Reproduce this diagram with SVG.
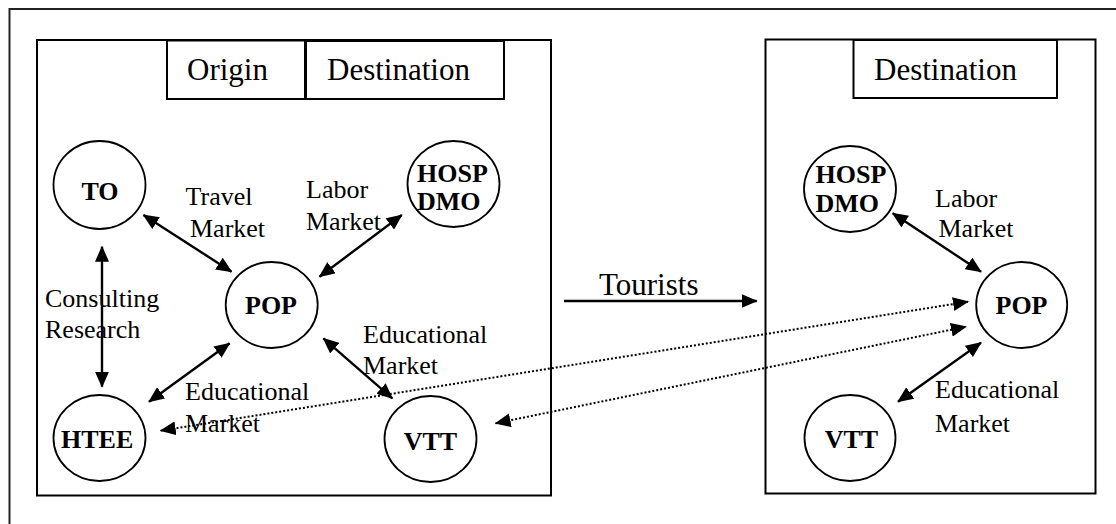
<svg xmlns="http://www.w3.org/2000/svg" width="1116" height="524" viewBox="0 0 1116 524">
<defs>
<marker id="ah" markerUnits="userSpaceOnUse" markerWidth="16" markerHeight="14" refX="15" refY="7" orient="auto-start-reverse">
<path d="M0,0 L16,7 L0,14 z" fill="#000"/>
</marker>
<style>
.frame{fill:none;stroke:#222;stroke-width:2}
.box{fill:none;stroke:#000;stroke-width:2}
.node{fill:#fff;stroke:#000;stroke-width:1.8}
.nl{font-family:"Liberation Serif","Times New Roman",serif;font-weight:bold;font-size:26px;fill:#000}
.lb{font-family:"Liberation Serif","Times New Roman",serif;font-size:26px;fill:#000}
.big{font-family:"Liberation Serif","Times New Roman",serif;font-size:31px;fill:#000}
.c{fill:none;stroke:#000;stroke-width:2.4;marker-start:url(#ah);marker-end:url(#ah)}
.d{fill:none;stroke:#000;stroke-width:2;stroke-dasharray:2 2;marker-start:url(#ah);marker-end:url(#ah)}
.t{fill:none;stroke:#000;stroke-width:2.6;marker-end:url(#ah)}
</style>
</defs>
<rect width="1116" height="524" fill="#fff"/>
<g id="frame">
<path class="frame" d="M9.5,524 V9 H1116"/>
</g>
<g id="origin-box">
<rect class="box" x="37" y="40" width="514" height="455.5"/>
<rect class="box" x="167" y="40.5" width="138" height="58.5"/>
<text class="big" x="187" y="80">Origin</text>
<rect class="box" x="306" y="41" width="198" height="58"/>
<text class="big" x="327" y="80">Destination</text>
</g>
<g id="dest-box">
<rect class="box" x="765.5" y="39.5" width="330" height="454"/>
<rect class="box" x="853.5" y="40" width="203.5" height="58"/>
<text class="big" x="874" y="80">Destination</text>
</g>
<g id="labels">
<text class="lb" x="185.5" y="205">Travel</text>
<text class="lb" x="190" y="237">Market</text>
<text class="lb" x="306" y="198">Labor</text>
<text class="lb" x="306" y="230">Market</text>
<text class="lb" x="45" y="306.5">Consulting</text>
<text class="lb" x="45" y="337.5">Research</text>
<text class="lb" x="363" y="342.5">Educational</text>
<text class="lb" x="363" y="373.5">Market</text>
<text class="lb" x="185" y="400">Educational</text>
<text class="lb" x="185" y="432">Market</text>
<text class="big" x="599" y="295">Tourists</text>
<text class="lb" x="935" y="207">Labor</text>
<text class="lb" x="938.5" y="237">Market</text>
<text class="lb" x="935" y="398">Educational</text>
<text class="lb" x="935" y="432">Market</text>
</g>
<g id="connectors">
<line class="c" x1="143.5" y1="215" x2="231.5" y2="271.7"/>
<line class="c" x1="401.8" y1="215" x2="319.5" y2="276.7"/>
<line class="c" x1="102" y1="246.7" x2="102" y2="386.7"/>
<line class="c" x1="229.6" y1="343.3" x2="149" y2="401.7"/>
<line class="c" x1="323.4" y1="338.3" x2="392.3" y2="398.3"/>
<line class="t" x1="564" y1="301" x2="756.7" y2="301"/>
<line class="c" x1="892.7" y1="213.3" x2="981" y2="271.7"/>
<line class="c" x1="981" y1="342.7" x2="898" y2="401.7"/>
<line class="d" x1="160.7" y1="430.7" x2="968" y2="301.7"/>
<line class="d" x1="495.6" y1="423.3" x2="966" y2="326.7"/>
</g>
<g id="TO">
<ellipse class="node" cx="99.5" cy="185" rx="46" ry="44"/>
<text class="nl" x="100" y="200" text-anchor="middle">TO</text>
</g>
<g id="HOSP-origin">
<ellipse class="node" cx="453.5" cy="184" rx="46" ry="43"/>
<text class="nl" x="417" y="182">HOSP</text>
<text class="nl" x="417" y="210">DMO</text>
</g>
<g id="POP-origin">
<ellipse class="node" cx="271.7" cy="305" rx="46" ry="43"/>
<text class="nl" x="245" y="314">POP</text>
</g>
<g id="HTEE">
<ellipse class="node" cx="99.5" cy="438" rx="46" ry="43"/>
<text class="nl" x="61" y="448">HTEE</text>
</g>
<g id="VTT-origin">
<ellipse class="node" cx="430.5" cy="439" rx="46" ry="43"/>
<text class="nl" x="403.7" y="450">VTT</text>
</g>
<g id="HOSP-dest">
<ellipse class="node" cx="850" cy="189" rx="46" ry="43"/>
<text class="nl" x="815.5" y="183">HOSP</text>
<text class="nl" x="815.5" y="212">DMO</text>
</g>
<g id="POP-dest">
<ellipse class="node" cx="1021.7" cy="305" rx="45.5" ry="43"/>
<text class="nl" x="995.5" y="314">POP</text>
</g>
<g id="VTT-dest">
<ellipse class="node" cx="850" cy="438" rx="45.5" ry="43"/>
<text class="nl" x="824.7" y="448">VTT</text>
</g>
</svg>
